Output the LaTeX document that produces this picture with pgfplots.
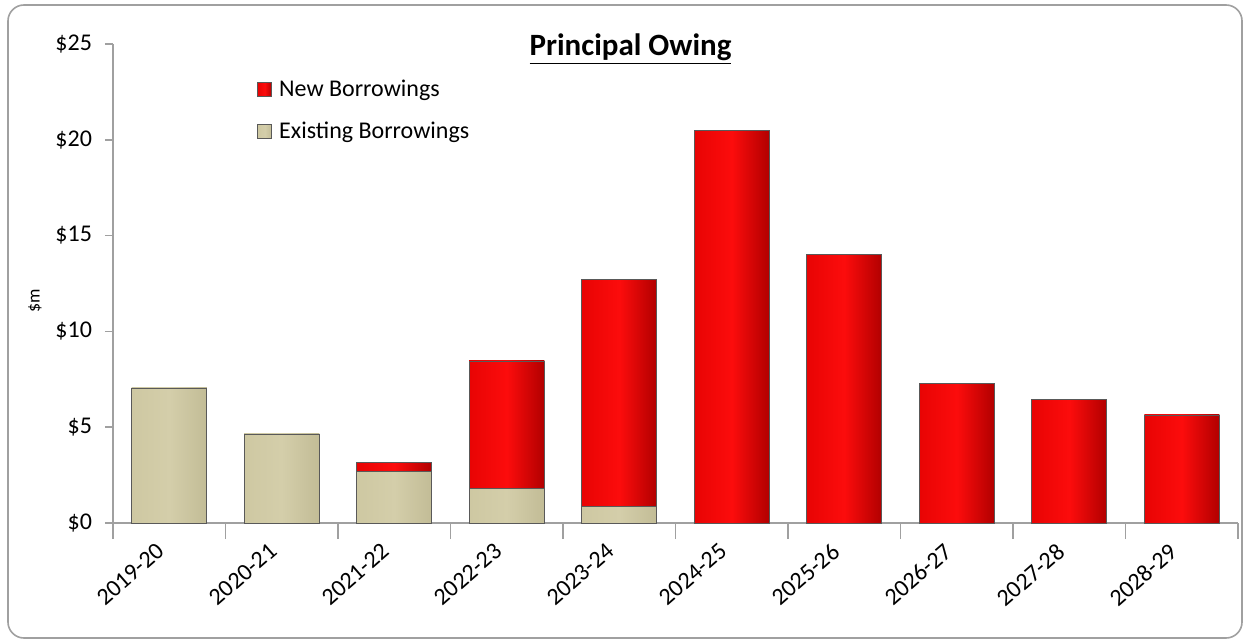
\documentclass[border=0pt]{standalone}
\usepackage{pgfplots}
\pgfplotsset{compat=1.18}
\usepackage{fontspec}
\setmainfont{Carlito}
\definecolor{axgray}{RGB}{160,160,160}
\definecolor{redL}{RGB}{232,4,4}
\definecolor{redM}{RGB}{252,12,12}
\definecolor{redR}{RGB}{178,0,0}
\definecolor{tanL}{RGB}{206,200,162}
\definecolor{tanM}{RGB}{212,206,170}
\definecolor{tanR}{RGB}{194,188,150}
\pgfplotsset{
  redbar/.style={draw=gray!70!black, line width=0.4pt, left color=redL, right color=redR, middle color=redM, bar shift=0pt},
  tanbar/.style={draw=gray!70!black, line width=0.4pt, left color=tanL, right color=tanR, middle color=tanM, bar shift=0pt},
}
\begin{document}
\begin{tikzpicture}
\draw[axgray, line width=0.8pt, rounded corners=8pt] (-52.5pt,259pt) rectangle (564.5pt,-57.5pt);
\begin{axis}[
  at={(0,0)}, anchor=south west,
  scale only axis,
  width=562.5pt, height=239.5pt,
  ybar,
  bar width=0.667,
  xmin=-0.5, xmax=9.5,
  ymin=0, ymax=25,
  axis lines=left,
  axis line style={-, axgray, line width=0.8pt},
  xtick={0,...,9},
  xticklabels={2019-20,2020-21,2021-22,2022-23,2023-24,2024-25,2025-26,2026-27,2027-28,2028-29},
  major x tick style={draw=none},
  minor xtick={-0.5,0.5,...,9.5},
  minor x tick style={axgray, line width=0.8pt},
  minor tick length=8pt,
  every tick/.append style={axgray},
  xtick pos=bottom, ytick pos=left,
  tick align=outside,
  major tick length=4pt,
  ytick={0,5,10,15,20,25},
  yticklabels={\$0,\$5,\$10,\$15,\$20,\$25},
  y tick style={axgray, line width=0.8pt},
  /pgf/number format/assume math mode=true,
  tick label style={font=\fontsize{12}{14}\selectfont, black},
  xticklabel style={xshift=-6.5pt, yshift=-0.5pt, rotate=41, anchor=north east},
  yticklabel style={xshift=-3pt},
  legend style={draw=none, fill=none, at={(0.128,0.935)}, anchor=north west,
    font=\fontsize{12}{14}\selectfont, row sep=7.5pt, inner sep=0pt,
    /tikz/every odd column/.append style={column sep=1.5pt}},
  legend image code/.code={\draw[#1] (0pt,-3.5pt) rectangle (7pt,3.5pt);},
  legend cell align=left,
  clip=false,
]
\addlegendimage{redbar}
\addlegendentry{New Borrowings}
\addlegendimage{tanbar}
\addlegendentry{Existing Borrowings}
% New + existing totals (red), drawn first
\addplot[redbar, forget plot] coordinates {(2,3.15)};
\addplot[redbar, forget plot] coordinates {(3,8.46)};
\addplot[redbar, forget plot] coordinates {(4,12.73)};
\addplot[redbar, forget plot] coordinates {(5,20.5)};
\addplot[redbar, forget plot] coordinates {(6,14.0)};
\addplot[redbar, forget plot] coordinates {(7,7.3)};
\addplot[redbar, forget plot] coordinates {(8,6.47)};
\addplot[redbar, forget plot] coordinates {(9,5.64)};
% Existing borrowings (tan)
\addplot[tanbar, forget plot] coordinates {(0,7.05)};
\addplot[tanbar, forget plot] coordinates {(1,4.65)};
\addplot[tanbar, forget plot] coordinates {(2,2.7)};
\addplot[tanbar, forget plot] coordinates {(3,1.8)};
\addplot[tanbar, forget plot] coordinates {(4,0.88)};
\node[font=\fontsize{15.5}{18}\selectfont\bfseries] at (rel axis cs:0.46,0.99) {\underline{Principal Owing}};
\end{axis}
\node[rotate=90, font=\fontsize{9}{11}\selectfont] at (-39pt,111pt) {\$m};
\pgfresetboundingbox
\path[use as bounding box] (-56.5pt,-60pt) rectangle (566pt,261.5pt);
\end{tikzpicture}
\end{document}
